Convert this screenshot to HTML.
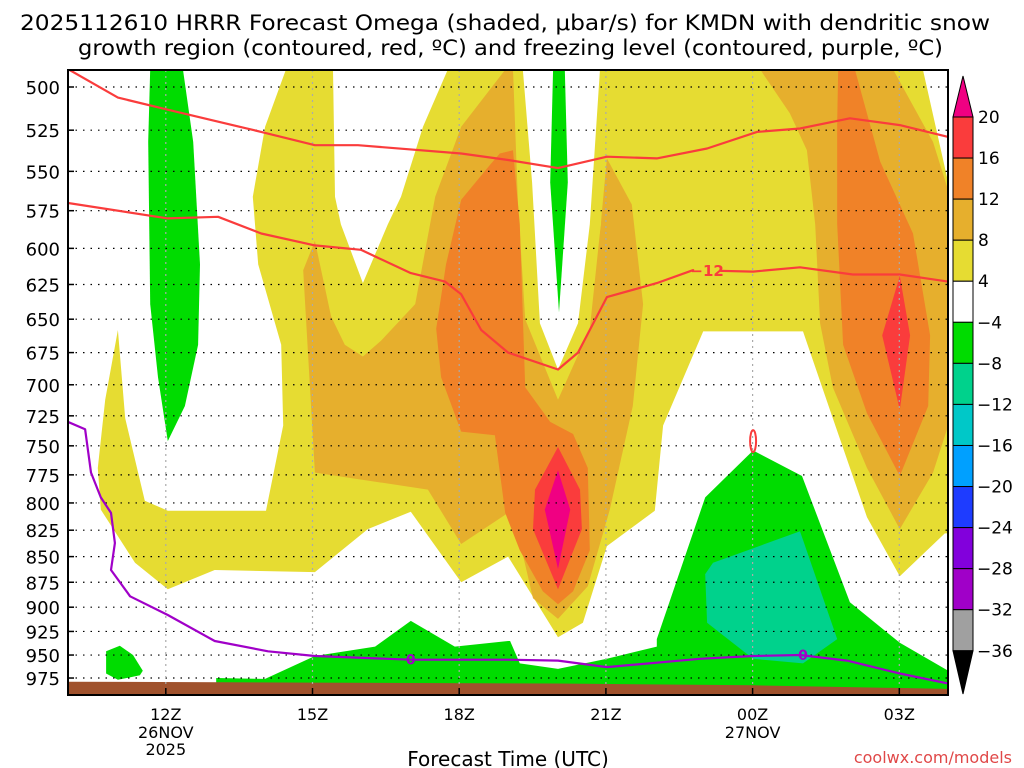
<!DOCTYPE html>
<html><head><meta charset="utf-8">
<style>
html,body{margin:0;padding:0;background:#fff;width:1024px;height:768px;overflow:hidden}
svg{display:block}
text{font-family:"DejaVu Sans","Liberation Sans",sans-serif}
</style></head>
<body>
<svg id="chart" width="1024" height="768" viewBox="0 0 1024 768" xmlns="http://www.w3.org/2000/svg">
<text x="20" y="30" font-size="21" textLength="970" lengthAdjust="spacingAndGlyphs">2025112610 HRRR Forecast Omega (shaded, μbar/s) for KMDN with dendritic snow</text>
<text x="78" y="55" font-size="21" textLength="865" lengthAdjust="spacingAndGlyphs">growth region (contoured, red, ºC) and freezing level (contoured, purple, ºC)</text>
<g id="shades"></g>
<g id="grid"></g>
<g id="lines"></g>
<g id="axes"></g>
<g id="cbar"></g>
<text x="508" y="766" font-size="20" text-anchor="middle">Forecast Time (UTC)</text>
<text x="1012" y="763" font-size="16" text-anchor="end" fill="#e04848">coolwx.com/models</text>
</svg>
<script>
// ---- data (hour since 00Z 26NOV, pressure hPa) ----
const yTicks = [500,525,550,575,600,625,650,675,700,725,750,775,800,825,850,875,900,925,950,975];
const xTickHours = [12,15,18,21,24,27];
const xTickLabels = ["12Z","15Z","18Z","21Z","00Z","03Z"];
const xTickSub1 = ["26NOV","","","","27NOV",""];
const xTickSub2 = ["2025","","","","",""];
const cbarLevels = ["20","16","12","8","4","\u22124","\u22128","\u221212","\u221216","\u221220","\u221224","\u221228","\u221232","\u221236"];
const cbarColors = ["#fa3c3c","#f08228","#e6af2d","#e6dc32","#ffffff","#00dc00","#00d28c","#00c8c8","#00a0ff","#1e3cff","#8200dc","#a000c8","#a0a0a0"];

const yellowOuter = [[14.46,490],[14.03,523],[13.78,566],[13.89,611],[14.36,669],[14.40,733],[14.05,807],[12.04,807],[11.57,798],[11.17,727],[11.02,658],[10.76,712],[10.61,769],[10.67,806],[11.37,856],[12.04,882],[13.0,863],[15.05,865],[16.13,824],[17.01,808],[18.04,875],[19.0,850],[20.02,931],[20.53,916],[21.02,840],[22.0,807],[22.17,733],[22.99,659],[25.03,659],[25.64,727],[26.34,813],[27.01,869],[27.93,828],[28,828],[28,557],[27.48,490]];
const notchHole = [[15.42,490],[15.46,566],[15.58,584],[16.03,624],[16.54,584],[16.81,566],[17.26,523],[17.77,490]];
const lightOrangeL = [[18.95,490],[18.04,523],[17.51,566],[17.10,639],[16.40,666],[16.03,678],[15.66,669],[15.38,648],[15.05,595],[14.81,615],[15.05,773],[17.36,788],[18.04,838],[19.0,809],[19.18,824],[19.51,891],[20.02,912],[20.63,879],[21.08,806],[21.55,717],[21.76,639],[21.53,571],[21.02,542],[20.88,589],[20.67,657],[20.02,712],[19.35,650],[19.20,569],[19.1,490]];
const channelRim = [[19.1,490],[19.3,557],[19.45,653],[20.02,705],[20.6,653],[20.9,584],[21.0,490]];
const channelHole = [[19.30,490],[19.49,557],[19.65,653],[20.02,688],[20.43,653],[20.67,584],[20.88,490]];
const orangeL = [[18.83,539],[19.10,537],[19.24,584],[19.35,702],[19.86,730],[20.33,740],[20.63,769],[20.67,844],[20.33,884],[20.02,897],[19.71,884],[19.24,844],[18.94,809],[18.73,741],[18.04,738],[17.63,694],[17.53,657],[17.73,611],[18.04,568],[18.63,546]];
const redL = [[20.02,751],[20.47,788],[20.51,824],[20.02,882],[19.51,824],[19.55,788]];
const magentaL = [[20.02,771],[20.27,806],[20.02,862],[19.75,806]];
const lightOrangeR = [[24.15,490],[26.87,490],[27.69,532],[28,562],[28,733],[27.69,773],[27.01,824],[26.34,769],[25.64,702],[25.38,653],[25.28,584],[25.11,537],[24.76,515]];
const orangeR = [[25.75,490],[26.09,490],[26.61,544],[27.28,590],[27.63,662],[27.59,717],[27.01,776],[26.34,723],[25.85,669],[25.73,584],[25.73,520]];
const redR = [[27.01,619],[27.22,662],[27.01,720],[26.65,662]];
const greenColumn = [[11.68,490],[12.35,490],[12.56,532],[12.70,611],[12.66,669],[12.39,717],[12.04,746],[11.84,694],[11.68,639],[11.64,532]];
const greenChannel = [[19.92,490],[20.16,490],[20.22,557],[20.04,645],[19.86,557]];
const greenBlob = [[10.78,946],[11.06,940],[11.33,950],[11.53,967],[11.47,972],[11.02,977],[10.78,970]];
const greenBottom = [[13.03,975],[14.03,976],[15.05,951],[16.28,941],[17.01,914],[17.91,941],[19.0,935],[19.04,935],[19.24,959],[20.02,965],[21.02,954],[22.04,941],[22.04,933],[22.66,844],[23.03,795],[24.01,754],[25.01,776],[25.99,895],[27.01,937],[28,967],[28,992],[13.03,992]];
const tealBlob = [[23.03,867],[23.19,856],[24.97,826],[25.73,933],[25.03,959],[24.01,954],[23.07,916]];
const groundHours = [10,15,20,24,28];
const groundTopP = [979,980,981,983,987];

const tempUpper = [[10,490],[11.02,506],[12.04,513],[13.95,526],[15.05,534],[15.93,534],[18.04,539],[19.0,543],[20.02,548],[21.02,541],[22.04,542],[23.07,536],[24.09,526],[24.97,524],[25.99,518],[27.01,522],[28,529]];
const tempLower = [[10,570],[12.04,580],[13.07,579],[13.95,590],[15.05,598],[15.99,601],[17.01,617],[17.71,623],[18.04,632],[18.45,658],[19.0,675],[20.02,688],[20.43,675],[21.02,634],[22.04,624],[22.78,615],[24.01,616],[24.97,613],[26.05,618],[27.01,618],[28,623]];
const freezeLine = [[10,730],[10.35,736],[10.47,773],[10.67,795],[10.88,809],[10.96,837],[10.88,863],[11.27,889],[12.04,908],[13.0,935],[14.09,946],[15.05,951],[17.01,955],[19.0,955],[20.02,956],[21.02,963],[22.92,954],[24.01,951],[24.97,950],[25.93,956],[27.01,970],[28,981]];
const freezeLabels = [[17.01,955],[25.03,950]];
const tempLabel = [23.07,615];
const zeroLoop = [24.01,746];

// ---- axes ----
const X0=68, X1=948, Y0=70, Y1=695;
function xs(h){return X0+(h-10)*48.9;}
function ys(p){return 87+885*Math.log(p/500);}
const NS="http://www.w3.org/2000/svg";
function mk(tag,attrs,parent){const e=document.createElementNS(NS,tag);for(const k in attrs)e.setAttribute(k,attrs[k]);parent.appendChild(e);return e;}
function pts(a){return a.map(d=>xs(d[0]).toFixed(1)+","+ys(d[1]).toFixed(1)).join(" ");}

const shades=document.getElementById("shades");
function poly(arr,fill,name){
  const e=mk("polygon",{points:pts(arr),fill:fill},shades);
  
  
}
const clipEl=mk("clipPath",{id:"plotclip"},document.getElementById("chart"));
mk("rect",{x:X0,y:Y0,width:X1-X0,height:Y1-Y0},clipEl);
shades.setAttribute("clip-path","url(#plotclip)");

poly(yellowOuter,"#e6dc32","shade-4-8");
poly(notchHole,"#ffffff","shade-neutral-notch");
poly(lightOrangeL,"#e6af2d","shade-8-12-left");
poly(channelRim,"#e6dc32","shade-4-8-rim");
poly(channelHole,"#ffffff","shade-neutral-channel");
poly(orangeL,"#f08228","shade-12-16-left");
poly(redL,"#fa3c3c","shade-16-20-left");
poly(magentaL,"#f00082","shade-over-20");
poly(lightOrangeR,"#e6af2d","shade-8-12-right");
poly(orangeR,"#f08228","shade-12-16-right");
poly(redR,"#fa3c3c","shade-16-20-right");
poly(greenColumn,"#00dc00","shade-neg4-neg8-column");
poly(greenChannel,"#00dc00","shade-neg4-neg8-channel");
poly(greenBlob,"#00dc00","shade-neg4-neg8-blob");
poly(greenBottom,"#00dc00","shade-neg4-neg8-bottom");
poly(tealBlob,"#00d28c","shade-neg8-neg12");
const gpts=groundHours.map((h,i)=>[h,groundTopP[i]]).concat([[28,1000],[10,1000]]);
poly(gpts,"#a0522d","ground");

// grid
const grid=document.getElementById("grid");
yTicks.forEach(p=>{
  const l=mk("line",{x1:X0,x2:X1,y1:ys(p),y2:ys(p),stroke:"#000","stroke-width":1.2,"stroke-dasharray":"1.5,6"},grid);
  
  
});
xTickHours.forEach(h=>{
  const l=mk("line",{x1:xs(h),x2:xs(h),y1:Y0,y2:Y1,stroke:"#aaa","stroke-width":1.2,"stroke-dasharray":"2,4"},grid);
  
  
});

// lines
const lines=document.getElementById("lines");
lines.setAttribute("clip-path","url(#plotclip)");
function pl(arr,col,w,name){
  const e=mk("polyline",{points:pts(arr),fill:"none",stroke:col,"stroke-width":w,"stroke-linejoin":"round"},lines);
  
  
}
pl(tempUpper,"#fa3c3c",2.2,"temp-contour-upper");
pl(tempLower,"#fa3c3c",2.2,"temp-contour-minus12");
pl(freezeLine,"#a000c8",2.2,"freezing-level-contour");
const lbr=mk("rect",{x:xs(tempLabel[0])-13,y:ys(tempLabel[1])-8,width:26,height:16,fill:"#e6dc32"},lines);


const lt=mk("text",{x:xs(tempLabel[0]),y:ys(tempLabel[1])+6,"font-size":15,"font-weight":"bold","text-anchor":"middle",fill:"#fa3c3c"},lines);
lt.textContent="\u221212";


freezeLabels.forEach(d=>{
  const t=mk("text",{x:xs(d[0]),y:ys(d[1])+5,"font-size":14,"font-weight":"bold","text-anchor":"middle",fill:"#a000c8"},lines);
  t.textContent="0";
  
  
});
const zl=mk("ellipse",{cx:xs(zeroLoop[0]),cy:ys(zeroLoop[1]),rx:3,ry:11,fill:"none",stroke:"#fa3c3c","stroke-width":2},lines);



// axes
const axes=document.getElementById("axes");
const fr=mk("rect",{x:X0,y:Y0,width:X1-X0,height:Y1-Y0,fill:"none",stroke:"#000","stroke-width":2},axes);


yTicks.forEach(p=>{
  const t=mk("line",{x1:X0,x2:X0+6,y1:ys(p),y2:ys(p),stroke:"#000","stroke-width":1.5},axes);
  
  
  const tx=mk("text",{x:60,y:ys(p)+7,"font-size":18,"text-anchor":"end"},axes);
  tx.textContent=p;
  
  
});
xTickHours.forEach((h,i)=>{
  const t=mk("line",{x1:xs(h),x2:xs(h),y1:Y1,y2:Y1-7,stroke:"#000","stroke-width":1.5},axes);
  
  
  [[xTickLabels[i],720],[xTickSub1[i],738],[xTickSub2[i],755]].forEach(s=>{
    if(!s[0])return;
    const tx=mk("text",{x:xs(h),y:s[1],"font-size":16,"text-anchor":"middle"},axes);
    tx.textContent=s[0];
    
    
  });
});

// colorbar
const cb=document.getElementById("cbar");
const CBX=953, CBW=20, CBT=117, CBH=41.06;
const topArrow=mk("polygon",{points:`${CBX},${CBT} ${CBX+CBW},${CBT} ${CBX+CBW/2},76`,fill:"#f00082",stroke:"#000","stroke-width":1},cb);


cbarColors.forEach((c,i)=>{
  const r=mk("rect",{x:CBX,y:CBT+i*CBH,width:CBW,height:CBH,fill:c,stroke:"#000","stroke-width":1},cb);
  
  
});
const cbBottom=CBT+cbarColors.length*CBH;
const botArrow=mk("polygon",{points:`${CBX},${cbBottom} ${CBX+CBW},${cbBottom} ${CBX+CBW/2},694`,fill:"#000",stroke:"#000","stroke-width":1},cb);


cbarLevels.forEach((s,i)=>{
  const t=mk("text",{x:s.startsWith("\u2212")?977:978,y:CBT+i*CBH+6,"font-size":17},cb);
  t.textContent=s;
  
  
});
</script>
</body></html>
